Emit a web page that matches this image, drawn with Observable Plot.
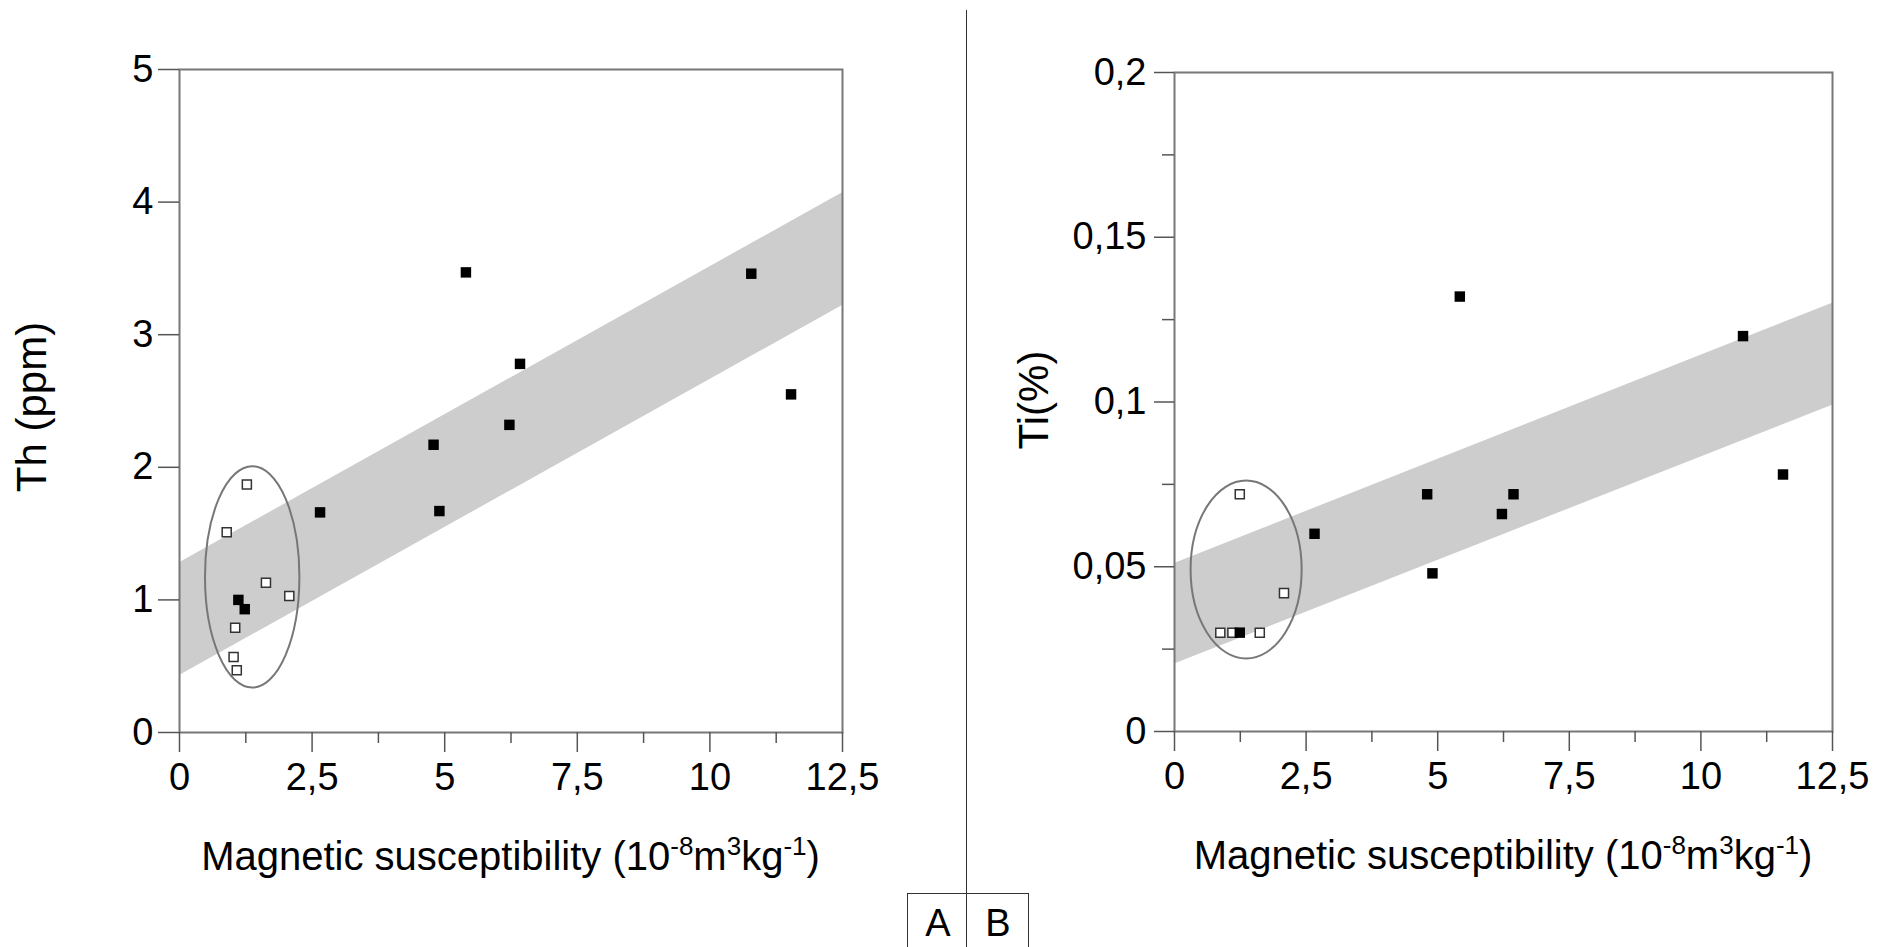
<!DOCTYPE html>
<html><head><meta charset="utf-8">
<script src="https://cdn.jsdelivr.net/npm/d3@7"></script>
<script src="https://cdn.jsdelivr.net/npm/@observablehq/plot@0.6"></script>
<style>
html,body{margin:0;padding:0;background:#fff;width:1890px;height:947px;overflow:hidden;font-family:"Liberation Sans",Arial,sans-serif;}
#wrap{position:relative;width:1890px;height:947px;}
#left{position:absolute;left:0;top:0;}
#right{position:absolute;left:960px;top:0;}
#divider{position:absolute;left:966px;top:10px;width:0;height:937px;border-left:1.5px solid #333;}
#tag{position:absolute;left:907px;top:893px;width:120px;height:60px;border:1.5px solid #333;border-bottom:none;}
.tagl{position:absolute;top:904px;width:60px;text-align:center;font-size:38px;line-height:38px;color:#000;}
</style>
</head><body>
<div id="wrap">
  <div id="left"></div>
  <div id="right"></div>
  <div id="divider"></div>
  <div id="tag"></div>
  <div class="tagl" style="left:908px">A</div>
  <div class="tagl" style="left:968px">B</div>
</div>
<script>
// ---- ticks ----
const xMajorTicks = [0, 2.5, 5, 7.5, 10, 12.5];
const xMinorTicks = [1.25, 3.75, 6.25, 8.75, 11.25];
const thTicks = [0, 1, 2, 3, 4, 5];
const tiMajorTicks = [0, 0.05, 0.1, 0.15, 0.2];
const tiMinorTicks = [0.025, 0.075, 0.125, 0.175];

// ---- panel A: Th ----
const thFilledX = [5.40, 10.78, 6.42, 11.53, 6.22, 4.79, 4.90, 2.65, 1.11, 1.23];
const thFilledY = [3.47, 3.46, 2.78, 2.55, 2.32, 2.17, 1.67, 1.66, 1.00, 0.93];
const thOpenX = [1.27, 0.89, 1.63, 2.07, 1.05, 1.02, 1.08];
const thOpenY = [1.87, 1.51, 1.13, 1.03, 0.79, 0.57, 0.47];
const bandX = [0, 12.5];
const thBandUpper = [1.28, 4.07];
const thBandLower = [0.43, 3.22];
const thEllipse = [1.38, 1.17, 0.89, 0.835]; // cx, cy, rx, ry

// ---- panel B: Ti ----
const tiFilledX = [5.42, 10.80, 11.56, 4.80, 6.44, 6.22, 2.66, 4.90, 1.24];
const tiFilledY = [0.132, 0.120, 0.078, 0.072, 0.072, 0.066, 0.060, 0.048, 0.030];
const tiOpenX = [1.24, 2.08, 0.87, 1.10, 1.62];
const tiOpenY = [0.072, 0.042, 0.030, 0.030, 0.030];
const tiBandUpper = [0.051, 0.130];
const tiBandLower = [0.0205, 0.099];
const tiEllipse = [1.37, 0.049, 1.055, 0.027];

const xTitleParts = [["Magnetic susceptibility (10", false], ["-8", true], ["m", false], ["3", true], ["kg", false], ["-1", true], [")", false]];
const thTitle = "Th (ppm)";
const tiTitle = "Ti(%)";

const FONT = "Liberation Sans, Arial, sans-serif";
const fmt = d => String(d).replace(".", ",");
const zip = (xs, ys) => xs.map((x, i) => ({x, y: ys[i]}));
const bandRows = (u, l) => bandX.map((x, i) => ({x, y1: l[i], y2: u[i]}));
const NS = "http://www.w3.org/2000/svg";

function ellipseMark([cx, cy, rx, ry]) {
  return (index, scales) => {
    const e = document.createElementNS(NS, "ellipse");
    const x0 = scales.x(cx), y0 = scales.y(cy);
    e.setAttribute("cx", x0);
    e.setAttribute("cy", y0);
    e.setAttribute("rx", Math.abs(scales.x(cx + rx) - x0));
    e.setAttribute("ry", Math.abs(scales.y(cy + ry) - y0));
    e.setAttribute("fill", "none");
    e.setAttribute("stroke", "#777");
    e.setAttribute("stroke-width", 2);
    return e;
  };
}

function xTitleMark(offset) {
  return (index, scales, values, dim) => {
    const t = document.createElementNS(NS, "text");
    t.setAttribute("x", (dim.marginLeft + dim.width - dim.marginRight) / 2);
    t.setAttribute("y", dim.height - dim.marginBottom + offset);
    t.setAttribute("text-anchor", "middle");
    t.setAttribute("font-size", 40);
    t.setAttribute("font-family", FONT);
    t.setAttribute("fill", "#000");
    for (const [s, sup] of xTitleParts) {
      const ts = document.createElementNS(NS, "tspan");
      ts.textContent = s;
      if (sup) { ts.setAttribute("font-size", 26); ts.setAttribute("baseline-shift", "15"); }
      t.appendChild(ts);
    }
    return t;
  };
}

function panel(o) {
  return Plot.plot({
    width: o.W, height: 947,
    marginLeft: o.ml, marginRight: o.mr, marginTop: o.mt, marginBottom: o.mb,
    style: {fontFamily: FONT, fontSize: "38px", color: "#000", background: "transparent"},
    x: {domain: [0, 12.5], label: null},
    y: {domain: o.ydomain, label: null},
    marks: [
      Plot.areaY(o.band, {x: "x", y1: "y1", y2: "y2", fill: "#cdcdcd", fillOpacity: 1}),
      Plot.frame({stroke: "#777", strokeWidth: 2}),
      Plot.axisX({ticks: xMajorTicks, tickSize: 20, tickPadding: 11, tickFormat: fmt, stroke: "#555", strokeWidth: 1.5, label: null}),
      Plot.axisX({ticks: xMinorTicks, tickSize: 11, tickFormat: () => "", stroke: "#555", strokeWidth: 1.5, label: null}),
      Plot.axisY({ticks: o.yMajor, tickSize: o.ytick, tickPadding: o.ypad, tickFormat: fmt, stroke: "#555", strokeWidth: 1.5, label: null}),
      ...(o.yMinor ? [Plot.axisY({ticks: o.yMinor, tickSize: 12, tickFormat: () => "", stroke: "#555", strokeWidth: 1.5, label: null})] : []),
      ellipseMark(o.ellipse),
      Plot.dot(o.open, {x: "x", y: "y", symbol: "square", r: 5.1, fill: "#fff", stroke: "#333", strokeWidth: 1.5}),
      Plot.dot(o.filled, {x: "x", y: "y", symbol: "square", r: 5.9, fill: "#000", stroke: "none"}),
      Plot.text([o.ytitle], {frameAnchor: "left", text: d => d, rotate: -90, textAnchor: "middle", lineAnchor: "middle", dx: o.ytdx, dy: o.ytdy, fontSize: 42, fill: "#000"}),
      xTitleMark(138)
    ]
  });
}

document.getElementById("left").appendChild(panel({
  W: 960, ml: 179, mr: 118, mt: 69, mb: 215,
  ydomain: [0, 5], yMajor: thTicks, yMinor: null, ytick: 21, ypad: 5,
  band: bandRows(thBandUpper, thBandLower), ellipse: thEllipse,
  open: zip(thOpenX, thOpenY), filled: zip(thFilledX, thFilledY),
  ytitle: thTitle, ytdx: -147, ytdy: 6
}));

document.getElementById("right").appendChild(panel({
  W: 930, ml: 214, mr: 58, mt: 72, mb: 216,
  ydomain: [0, 0.2], yMajor: tiMajorTicks, yMinor: tiMinorTicks, ytick: 20, ypad: 8,
  band: bandRows(tiBandUpper, tiBandLower), ellipse: tiEllipse,
  open: zip(tiOpenX, tiOpenY), filled: zip(tiFilledX, tiFilledY),
  ytitle: tiTitle, ytdx: -140, ytdy: -2
}));
</script>
</body></html>
